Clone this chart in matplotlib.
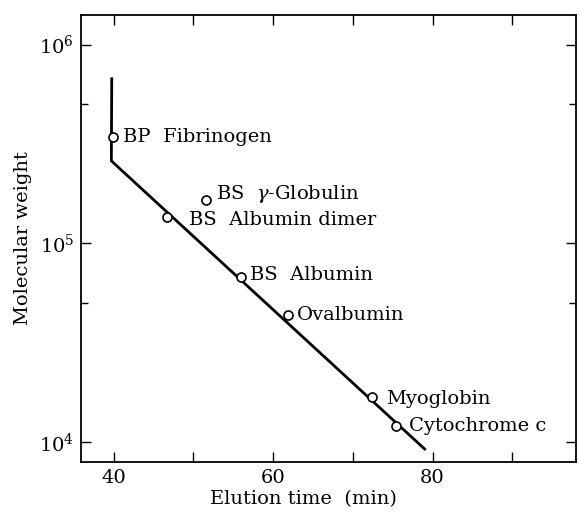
import numpy as np
import matplotlib
matplotlib.use("Agg")
import matplotlib.pyplot as plt
from matplotlib.ticker import FixedLocator, NullFormatter

plt.rcParams['font.family'] = ['DejaVu Serif']
plt.rcParams['mathtext.fontset'] = 'dejavuserif'

# proteins: elution time (min) and molecular weight
proteins = ['BP  Fibrinogen', r'BS  $\gamma$-Globulin', 'BS  Albumin dimer', 'BS  Albumin',
            'Ovalbumin', 'Myoglobin', 'Cytochrome c']
elution = [39.9, 51.6, 46.7, 56.0, 61.8, 72.4, 75.4]
mol_wt = [3.44e5, 1.65e5, 1.36e5, 6.76e4, 4.39e4, 1.69e4, 1.21e4]
# label offsets in pixels (dx, dy)
label_dx = [10, 10, 22, 9, 9, 14, 13]
label_dy = [0, 6, -3, 2, 0, -2, 0]

# calibration line
line_t = [39.75, 39.7, 79.0]
line_mw = [6.73e5, 2.6e5, 9.25e3]

x_ticks = [40, 50, 60, 70, 80, 90]
x_labels = ['40', '', '60', '', '80', '']

fig = plt.figure(figsize=(5.79, 5.13), dpi=100)
ax = fig.add_axes([0.14, 0.099, 0.855, 0.872])

ax.plot(line_t, line_mw, color='black', linewidth=2.0, zorder=2)
ax.plot(elution, mol_wt, 'o', markersize=6.5, markerfacecolor='white',
        markeredgecolor='black', markeredgewidth=1.2, zorder=3)
for i, name in enumerate(proteins):
    ax.annotate(name, (elution[i], mol_wt[i]), xytext=(label_dx[i], label_dy[i]),
                textcoords='offset pixels', ha='left', va='center', fontsize=14)

ax.set_yscale('log')
ax.set_xlim(35.9, 98)
ax.set_ylim(7.94e3, 1.41e6)

ax.set_xticks(x_ticks)
ax.set_xticklabels(x_labels, fontsize=14)
ax.yaxis.set_major_locator(FixedLocator([1e4, 1e5, 1e6]))
ax.set_yticklabels([r'$10^4$', r'$10^5$', r'$10^6$'], fontsize=14)
ax.yaxis.set_minor_locator(FixedLocator([5e4, 5e5]))
ax.yaxis.set_minor_formatter(NullFormatter())
ax.xaxis.set_minor_locator(FixedLocator([]))

ax.tick_params(axis='both', which='major', direction='in', length=7, width=1.0,
               top=True, right=True, pad=5)
ax.tick_params(axis='y', which='minor', direction='in', length=5, width=1.0, right=True)
for sp in ax.spines.values():
    sp.set_linewidth(1.3)

ax.set_xlabel('Elution time  (min)', fontsize=14, x=0.45, labelpad=2)
ax.set_ylabel('Molecular weight', fontsize=14, labelpad=5)

fig.savefig('out.png', dpi=100)
